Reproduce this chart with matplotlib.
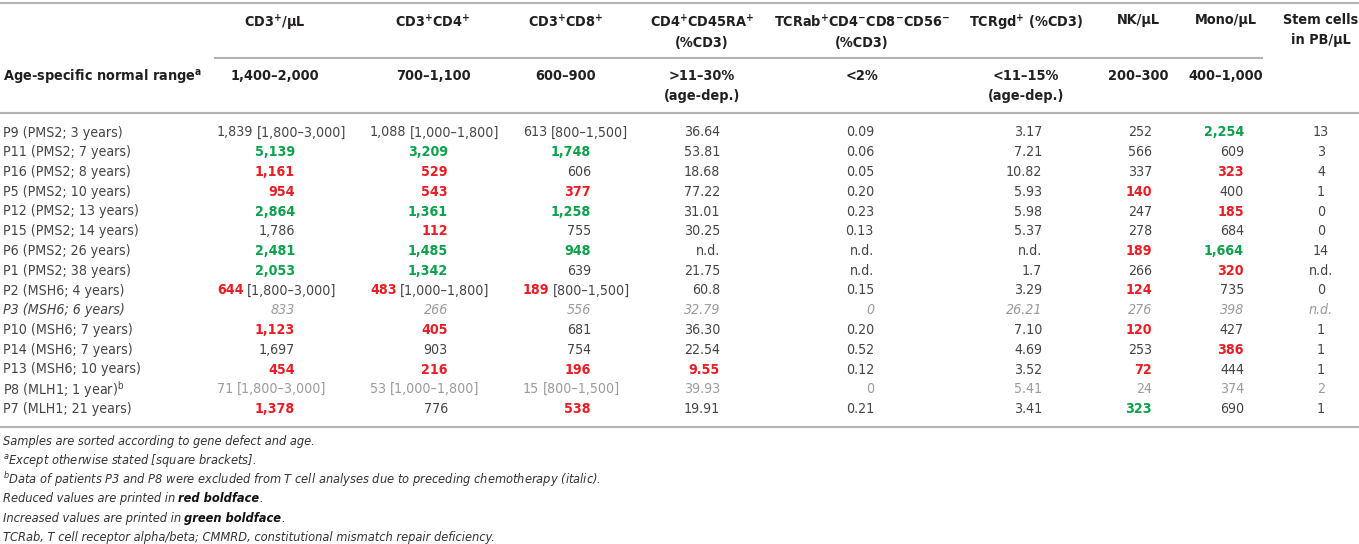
import matplotlib
matplotlib.use('Agg')
import matplotlib.pyplot as plt

plt.rcParams['font.family'] = ['DejaVu Sans']
plt.rcParams['font.stretch'] = 'condensed'
plt.rcParams['mathtext.default'] = 'regular'

# ---- data ----
headers = ['CD3$^{+}$/µL', 'CD3$^{+}$CD4$^{+}$', 'CD3$^{+}$CD8$^{+}$',
           'CD4$^{+}$CD45RA$^{+}$\n(%CD3)', 'TCRab$^{+}$CD4$^{-}$CD8$^{-}$CD56$^{-}$\n(%CD3)',
           'TCRgd$^{+}$ (%CD3)', 'NK/µL', 'Mono/µL', 'Stem cells\nin PB/µL']
normal_range = ['1,400–2,000', '700–1,100', '600–900', '>11–30%\n(age-dep.)', '<2%',
                '<11–15%\n(age-dep.)', '200–300', '400–1,000', '']

patients = ['P9 (PMS2; 3 years)', 'P11 (PMS2; 7 years)', 'P16 (PMS2; 8 years)',
            'P5 (PMS2; 10 years)', 'P12 (PMS2; 13 years)', 'P15 (PMS2; 14 years)',
            'P6 (PMS2; 26 years)', 'P1 (PMS2; 38 years)', 'P2 (MSH6; 4 years)',
            'P3 (MSH6; 6 years)', 'P10 (MSH6; 7 years)', 'P14 (MSH6; 7 years)',
            'P13 (MSH6; 10 years)', 'P8 (MLH1; 1 year)$^{b}$', 'P7 (MLH1; 21 years)']

cd3 = ['1,839', '5,139', '1,161', '954', '2,864', '1,786', '2,481', '2,053',
       '644', '833', '1,123', '1,697', '454', '71', '1,378']
cd4 = ['1,088', '3,209', '529', '543', '1,361', '112', '1,485', '1,342',
       '483', '266', '405', '903', '216', '53', '776']
cd8 = ['613', '1,748', '606', '377', '1,258', '755', '948', '639',
       '189', '556', '681', '754', '196', '15', '538']
cd45ra = ['36.64', '53.81', '18.68', '77.22', '31.01', '30.25', 'n.d.', '21.75',
          '60.8', '32.79', '36.30', '22.54', '9.55', '39.93', '19.91']
tcrab = ['0.09', '0.06', '0.05', '0.20', '0.23', '0.13', 'n.d.', 'n.d.',
         '0.15', '0', '0.20', '0.52', '0.12', '0', '0.21']
tcrgd = ['3.17', '7.21', '10.82', '5.93', '5.98', '5.37', 'n.d.', '1.7',
         '3.29', '26.21', '7.10', '4.69', '3.52', '5.41', '3.41']
nk = ['252', '566', '337', '140', '247', '278', '189', '266',
      '124', '276', '120', '253', '72', '24', '323']
mono = ['2,254', '609', '323', '400', '185', '684', '1,664', '320',
        '735', '398', '427', '386', '444', '374', '690']
stem = ['13', '3', '4', '1', '0', '0', '14', 'n.d.',
        '0', 'n.d.', '1', '1', '1', '2', '1']

# r = reduced (red bold), g = increased (green bold)
cd3_flag = ['', 'g', 'r', 'r', 'g', '', 'g', 'g', 'r', '', 'r', '', 'r', '', 'r']
cd4_flag = ['', 'g', 'r', 'r', 'g', 'r', 'g', 'g', 'r', '', 'r', '', 'r', '', '']
cd8_flag = ['', 'g', '', 'r', 'g', '', 'g', '', 'r', '', '', '', 'r', '', 'r']
cd45ra_flag = [''] * 12 + ['r', '', '']
tcrab_flag = [''] * 15
tcrgd_flag = [''] * 15
nk_flag = ['', '', '', 'r', '', '', 'r', '', 'r', '', 'r', '', 'r', '', 'g']
mono_flag = ['g', '', 'r', '', 'r', '', 'g', 'r', '', '', '', 'r', '', '', '']
stem_flag = [''] * 15

# own reference ranges, shown in brackets after some T cell counts
bracket_rows = ['P9', 'P2', 'P8']
brackets = ['[1,800–3,000]', '[1,000–1,800]', '[800–1,500]']
excluded = ['P3', 'P8']   # grey values
italic_rows = ['P3']

# footnotes: (plain text, bold part, tail)
footnotes = [('Samples are sorted according to gene defect and age.', '', ''),
             ('$^{a}$Except otherwise stated [square brackets].', '', ''),
             ('$^{b}$Data of patients P3 and P8 were excluded from T cell analyses '
              'due to preceding chemotherapy (italic).', '', ''),
             ('Reduced values are printed in', 'red boldface', '.'),
             ('Increased values are printed in', 'green boldface', '.'),
             ('TCRab, T cell receptor alpha/beta; CMMRD, constitutional mismatch '
              'repair deficiency.', '', '')]

columns = [cd3, cd4, cd8, cd45ra, tcrab, tcrgd, nk, mono, stem]
flags = [cd3_flag, cd4_flag, cd8_flag, cd45ra_flag, tcrab_flag, tcrgd_flag,
         nk_flag, mono_flag, stem_flag]

# ---- layout (pixels) ----
head_x = [275, 433, 566, 702, 862, 1026, 1138, 1226, 1321]
val_right = [295, 448, 591, 720, 874, 1042, 1152, 1244, 1321]
bracket_left = [217, 370, 523]
row_y0, row_dy = 132.5, 19.75

TEXT = '#454545'
HEAD = '#231f20'
RED = '#ed1c24'
GREEN = '#0aa24a'
GREY = '#9b9b9b'
RULE = '#b4b4b4'
FS = 10.2
FS_HEAD = 10.4
FS_NOTE = 9.2

fig = plt.figure(figsize=(13.59, 5.44), dpi=100)
ax = fig.add_axes([0, 0, 1, 1])
ax.set_xlim(0, 1359)
ax.set_ylim(544, 0)
ax.axis('off')
renderer = fig.canvas.get_renderer()

# rules
ax.plot([0, 1359], [3, 3], color=RULE, lw=1.5)
ax.plot([215, 1262], [58, 58], color=RULE, lw=1.5)
ax.plot([0, 1359], [113, 113], color=RULE, lw=1.5)
ax.plot([0, 1359], [427, 427], color=RULE, lw=1.5)

# header
for i, h in enumerate(headers):
    ax.text(head_x[i], 13, h, ha='center', va='top', fontsize=FS_HEAD, fontweight='bold',
            color=HEAD, linespacing=1.55)
ax.text(3, 77, 'Age-specific normal range$^{a}$', ha='left', va='center',
        fontsize=FS_HEAD, fontweight='bold', color=HEAD)
for i, r in enumerate(normal_range):
    ax.text(head_x[i], 69, r, ha='center', va='top', fontsize=FS_HEAD, fontweight='bold',
            color=HEAD, linespacing=1.55)

# body
for j, p in enumerate(patients):
    y = row_y0 + j * row_dy
    pid = p.split(' ')[0]
    style = 'italic' if pid in italic_rows else 'normal'
    ax.text(3, y, p, ha='left', va='center', fontsize=FS, color=TEXT, fontstyle=style)
    for i, col in enumerate(columns):
        val = col[j]
        f = flags[i][j]
        if f == 'r':
            c, w = RED, 'bold'
        elif f == 'g':
            c, w = GREEN, 'bold'
        else:
            c, w = (GREY if pid in excluded else TEXT), 'normal'
        if i < 3 and pid in bracket_rows:
            t = ax.text(bracket_left[i], y, val, ha='left', va='center', fontsize=FS,
                        color=c, fontweight=w, fontstyle=style)
            x1 = t.get_window_extent(renderer).x1
            cb = GREY if pid in excluded else TEXT
            ax.text(x1 + 3.5, y, brackets[i], ha='left', va='center', fontsize=FS,
                    color=cb, fontstyle=style)
        elif i == 8:
            ax.text(val_right[i], y, val, ha='center', va='center', fontsize=FS,
                    color=c, fontweight=w, fontstyle=style)
        else:
            ax.text(val_right[i], y, val, ha='right', va='center', fontsize=FS,
                    color=c, fontweight=w, fontstyle=style)

# footnotes
for k, (plain, bold, tail) in enumerate(footnotes):
    y = 441 + k * 19.3
    t = ax.text(3, y, plain, ha='left', va='center', fontsize=FS_NOTE,
                fontstyle='italic', color='#333333')
    if bold:
        x1 = t.get_window_extent(renderer).x1 + 3.2
        tb = ax.text(x1, y, bold, ha='left', va='center', fontsize=FS_NOTE,
                     fontstyle='italic', fontweight='bold', color='#111111')
        x2 = tb.get_window_extent(renderer).x1
        ax.text(x2, y, tail, ha='left', va='center', fontsize=FS_NOTE,
                fontstyle='italic', color='#333333')

fig.savefig('out.png', dpi=100)
